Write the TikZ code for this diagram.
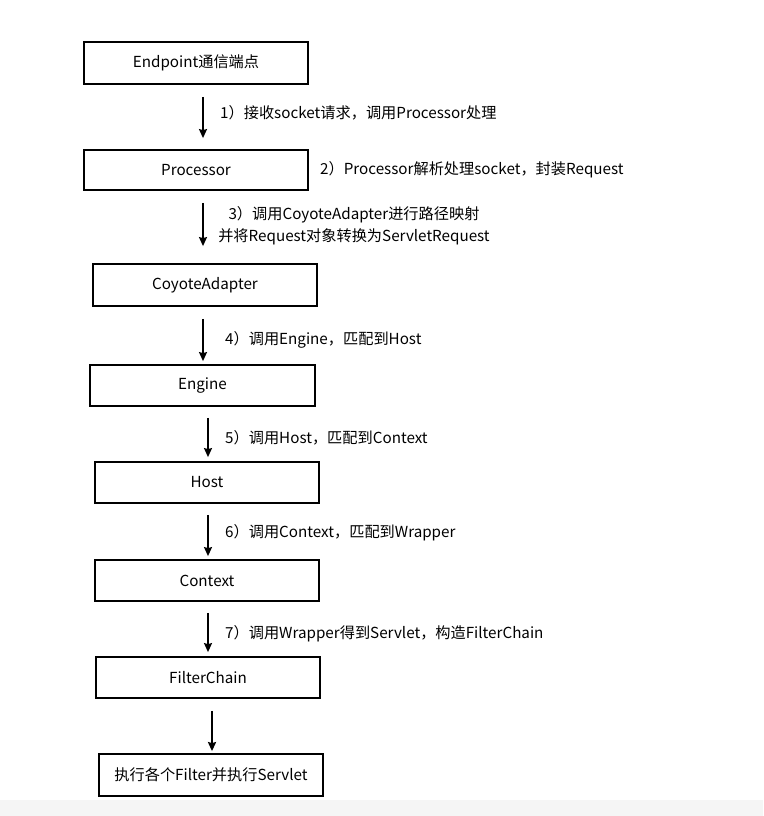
\documentclass[tikz,border=0pt]{standalone}
\usepackage{fontspec}
\setmainfont{Noto Sans CJK SC}
\usetikzlibrary{arrows.meta}

\tikzset{
  stage/.style={draw, line width=1.8pt, minimum width=224pt, minimum height=42pt,
    inner sep=0pt, font=\fontsize{15.2}{18}\selectfont},
  note/.style={anchor=west, inner sep=0pt, font=\fontsize{15.2}{22}\selectfont},
  flow/.style={-{Stealth[length=9pt,width=8pt,inset=1pt]}, line width=1.6pt}
}

\begin{document}
\begin{tikzpicture}[x=1pt,y=-1pt]
  \useasboundingbox (0,0) rectangle (763,816);
  \fill[black!4] (0,800) rectangle (763,816);

  % stages
  \node[stage] (ep) at (196,63) {Endpoint通信端点};
  \node[stage, minimum height=40pt] (pr) at (196,170) {Processor};
  \node[stage] (ca) at (205,285) {CoyoteAdapter};
  \node[stage, minimum width=225pt, minimum height=41pt] (en) at (202.5,385.5) {Engine};
  \node[stage, minimum height=41pt] (ho) at (207,482.5) {Host};
  \node[stage, minimum height=41pt] (ct) at (207,580.5) {Context};
  \node[stage, minimum height=41pt] (fc) at (208,677.5) {FilterChain};
  \node[stage] (ex) at (211,775) {执行各个Filter并执行Servlet};

  % arrows
  \draw[flow, shorten <=12pt, shorten >=11pt] ([xshift=7pt]ep.south) -- ([xshift=7pt]ep.south |- pr.north);
  \draw[flow, shorten <=12pt, shorten >=17pt] ([xshift=7pt]pr.south) -- ([xshift=7pt]pr.south |- ca.north);
  \draw[flow, shorten <=12pt, shorten >=3pt] ([xshift=-2pt]ca.south) -- ([xshift=-2pt]ca.south |- en.north);
  \draw[flow, shorten <=11pt, shorten >=4pt] ([xshift=5.5pt]en.south) -- ([xshift=5.5pt]en.south |- ho.north);
  \draw[flow, shorten <=11pt, shorten >=3pt] ([xshift=1pt]ho.south) -- ([xshift=1pt]ho.south |- ct.north);
  \draw[flow, shorten <=11pt, shorten >=4pt] ([xshift=1pt]ct.south) -- ([xshift=1pt]ct.south |- fc.north);
  \draw[flow, line width=2pt, shorten <=12pt, shorten >=2pt] ([xshift=4pt]fc.south) -- ([xshift=4pt]fc.south |- ex.north);

  % notes
  \node[note] (n1) at (220,113) {1）接收socket请求，调用Processor处理};
  \node[note] (n2) at (320,170) {2）Processor解析处理socket，封装Request};
  \node[note, anchor=center, align=center] (n3) at (354,226) {3）调用CoyoteAdapter进行路径映射\\并将Request对象转换为ServletRequest};
  \node[note] (n4) at (225,340) {4）调用Engine，匹配到Host};
  \node[note] (n5) at (225,438) {5）调用Host，匹配到Context};
  \node[note] (n6) at (225,533) {6）调用Context，匹配到Wrapper};
  \node[note] (n7) at (225,634) {7）调用Wrapper得到Servlet，构造FilterChain};
\end{tikzpicture}
\end{document}
